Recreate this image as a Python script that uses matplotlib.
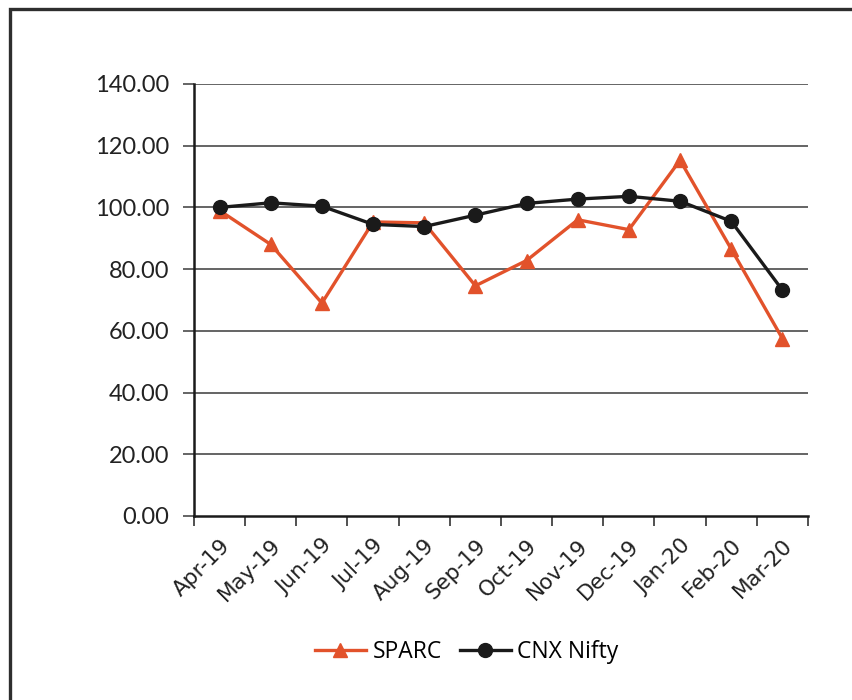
import matplotlib
matplotlib.use("Agg")
import matplotlib.pyplot as plt
from matplotlib.patches import Rectangle
from matplotlib.lines import Line2D

months = ["Apr-19", "May-19", "Jun-19", "Jul-19", "Aug-19", "Sep-19",
          "Oct-19", "Nov-19", "Dec-19", "Jan-20", "Feb-20", "Mar-20"]
sparc = [99.0, 88.0, 69.0, 95.3, 95.0, 74.6, 82.8, 96.0, 92.8, 115.3, 86.5, 57.5]
nifty = [100.0, 101.5, 100.4, 94.5, 93.8, 97.5, 101.3, 102.7, 103.6, 102.0, 95.5, 73.2]
yticks = [0, 20, 40, 60, 80, 100, 120, 140]

W, H = 853, 700
fig = plt.figure(figsize=(W / 100, H / 100), dpi=100)

# outer frame
fig.add_artist(Rectangle((9.5 / W, -0.05), 1.2, 1 - 8.5 / H + 0.05,
                         transform=fig.transFigure, fill=False,
                         edgecolor="#2e2e2e", linewidth=2.4))

ax = fig.add_axes([194 / W, 1 - 516 / H, (808 - 194) / W, (516 - 84) / H])
x = list(range(len(months)))

ax.set_ylim(0, 140)
ax.set_xlim(-0.5, len(months) - 0.5)
ax.set_yticks(yticks)
ax.set_yticklabels([f"{v:.2f}" for v in yticks], family="Lato", fontsize=17, color="#222222")
for v in yticks[1:]:
    ax.axhline(v, color="#4a4a4a", lw=1.2, zorder=1)

ax.set_xticks([i - 0.5 for i in range(len(months) + 1)])
ax.set_xticklabels([])
ax.set_xticks(x, minor=True)
ax.set_xticklabels(months, minor=True, rotation=45, ha="right", va="top",
                   rotation_mode="anchor", fontsize=15.5, family="DejaVu Sans", color="#222222")
ax.tick_params(axis="x", which="minor", length=0, pad=14)
ax.tick_params(axis="x", which="major", length=7, width=1.2, color="#333333")
ax.tick_params(axis="y", length=8, width=1.2, color="#4a4a4a", pad=10)

for s in ["top", "right"]:
    ax.spines[s].set_visible(False)
ax.spines["left"].set_linewidth(1.8)
ax.spines["bottom"].set_linewidth(1.8)
ax.spines["left"].set_color("#1a1a1a")
ax.spines["bottom"].set_color("#1a1a1a")

orange = "#E2522B"
ax.plot(x, sparc, color=orange, lw=2.4, marker="^", markersize=9.5, zorder=3, clip_on=False)
ax.plot(x, nifty, color="#1a1a1a", lw=2.4, marker="o", markersize=10, zorder=4, clip_on=False)

handles = [Line2D([], [], color=orange, lw=2.4, marker="^", markersize=9.5),
           Line2D([], [], color="#1a1a1a", lw=2.4, marker="o", markersize=10)]
fig.legend(handles, ["SPARC", "CNX Nifty"], loc="center", bbox_to_anchor=(467 / W, 1 - 652 / H),
           ncol=2, frameon=False, prop={"family": "Open Sans", "size": 16.5},
           handlelength=2.2, handletextpad=0.3, columnspacing=0.8)

fig.savefig("out.png", dpi=100, facecolor="white")
